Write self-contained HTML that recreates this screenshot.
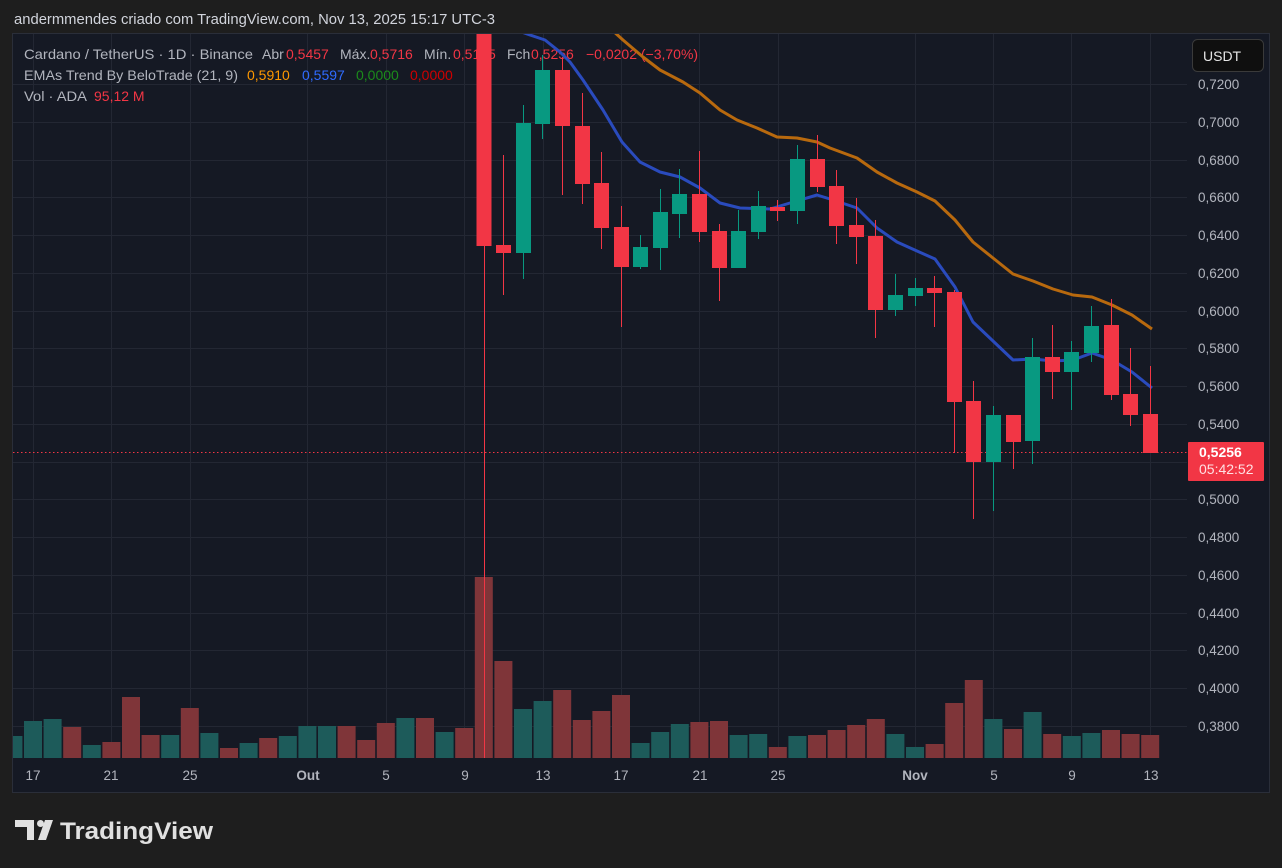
<!DOCTYPE html>
<html><head><meta charset="utf-8"><style>
html,body{margin:0;padding:0;background:#1e1e1e;width:1282px;height:868px;overflow:hidden}
svg{display:block}
text{font-family:"Liberation Sans",sans-serif}
</style></head><body>
<svg width="1282" height="868" viewBox="0 0 1282 868" xmlns="http://www.w3.org/2000/svg">
<rect width="1282" height="868" fill="#1e1e1e"/>
<text x="14" y="24" font-size="14.5" fill="#d1d4dc" textLength="481" lengthAdjust="spacingAndGlyphs">andermmendes criado com TradingView.com, Nov 13, 2025 15:17 UTC-3</text>
<rect x="12.5" y="33.5" width="1257" height="759" fill="#151924" stroke="#2a2e39"/>
<defs><clipPath id="c"><rect x="13" y="34" width="1174" height="724"/></clipPath></defs>
<g stroke="#232733" stroke-width="1">
<line x1="13" x2="1187" y1="84.5" y2="84.5"/><line x1="13" x2="1187" y1="122.5" y2="122.5"/><line x1="13" x2="1187" y1="160.5" y2="160.5"/><line x1="13" x2="1187" y1="197.5" y2="197.5"/><line x1="13" x2="1187" y1="235.5" y2="235.5"/><line x1="13" x2="1187" y1="273.5" y2="273.5"/><line x1="13" x2="1187" y1="311.5" y2="311.5"/><line x1="13" x2="1187" y1="348.5" y2="348.5"/><line x1="13" x2="1187" y1="386.5" y2="386.5"/><line x1="13" x2="1187" y1="424.5" y2="424.5"/><line x1="13" x2="1187" y1="462.5" y2="462.5"/><line x1="13" x2="1187" y1="499.5" y2="499.5"/><line x1="13" x2="1187" y1="537.5" y2="537.5"/><line x1="13" x2="1187" y1="575.5" y2="575.5"/><line x1="13" x2="1187" y1="613.5" y2="613.5"/><line x1="13" x2="1187" y1="650.5" y2="650.5"/><line x1="13" x2="1187" y1="688.5" y2="688.5"/><line x1="13" x2="1187" y1="726.5" y2="726.5"/>
<line y1="34" y2="758" x1="33.5" x2="33.5"/><line y1="34" y2="758" x1="111.5" x2="111.5"/><line y1="34" y2="758" x1="190.5" x2="190.5"/><line y1="34" y2="758" x1="307.5" x2="307.5"/><line y1="34" y2="758" x1="386.5" x2="386.5"/><line y1="34" y2="758" x1="464.5" x2="464.5"/><line y1="34" y2="758" x1="543.5" x2="543.5"/><line y1="34" y2="758" x1="621.5" x2="621.5"/><line y1="34" y2="758" x1="699.5" x2="699.5"/><line y1="34" y2="758" x1="778.5" x2="778.5"/><line y1="34" y2="758" x1="915.5" x2="915.5"/><line y1="34" y2="758" x1="993.5" x2="993.5"/><line y1="34" y2="758" x1="1071.5" x2="1071.5"/><line y1="34" y2="758" x1="1150.5" x2="1150.5"/>
</g>
<g font-size="14">
<text y="59" fill="#b2b5be"><tspan x="24" textLength="229" lengthAdjust="spacingAndGlyphs">Cardano / TetherUS · 1D · Binance</tspan><tspan x="262">Abr</tspan><tspan x="286" fill="#f23645">0,5457</tspan><tspan x="340">Máx.</tspan><tspan x="370" fill="#f23645">0,5716</tspan><tspan x="424">Mín.</tspan><tspan x="453" fill="#f23645">0,5185</tspan><tspan x="507">Fch</tspan><tspan x="531" fill="#f23645">0,5256</tspan><tspan x="586" fill="#f23645">−0,0202 (−3,70%)</tspan></text>
<text y="80" fill="#b2b5be"><tspan x="24" textLength="214" lengthAdjust="spacingAndGlyphs">EMAs Trend By BeloTrade (21, 9)</tspan><tspan x="247" fill="#ff9800">0,5910</tspan><tspan x="302" fill="#2f6bff">0,5597</tspan><tspan x="356" fill="#1b8a1b">0,0000</tspan><tspan x="410" fill="#d00000">0,0000</tspan></text>
<text y="101" fill="#b2b5be"><tspan x="24" textLength="63" lengthAdjust="spacingAndGlyphs">Vol · ADA</tspan><tspan x="94" fill="#f23645">95,12 M</tspan></text>
</g>
<g clip-path="url(#c)">
<g fill="#1d5b5a">
<rect x="4.4" y="736" width="18" height="22"/><rect x="24" y="721" width="18" height="37"/><rect x="43.6" y="719" width="18" height="39"/><rect x="82.8" y="745" width="18" height="13"/><rect x="161.2" y="735" width="18" height="23"/><rect x="200.4" y="733" width="18" height="25"/><rect x="239.6" y="743" width="18" height="15"/><rect x="278.8" y="736" width="18" height="22"/><rect x="298.4" y="726" width="18" height="32"/><rect x="318" y="726" width="18" height="32"/><rect x="396.4" y="718" width="18" height="40"/><rect x="435.6" y="732" width="18" height="26"/><rect x="514" y="709" width="18" height="49"/><rect x="533.6" y="701" width="18" height="57"/><rect x="631.6" y="743" width="18" height="15"/><rect x="651.2" y="732" width="18" height="26"/><rect x="670.8" y="724" width="18" height="34"/><rect x="729.6" y="735" width="18" height="23"/><rect x="749.2" y="734" width="18" height="24"/><rect x="788.4" y="736" width="18" height="22"/><rect x="886.4" y="734" width="18" height="24"/><rect x="906" y="747" width="18" height="11"/><rect x="984.4" y="719" width="18" height="39"/><rect x="1023.6" y="712" width="18" height="46"/><rect x="1062.8" y="736" width="18" height="22"/><rect x="1082.4" y="733" width="18" height="25"/>
</g>
<g fill="#7f3539">
<rect x="63.2" y="727" width="18" height="31"/><rect x="102.4" y="742" width="18" height="16"/><rect x="122" y="697" width="18" height="61"/><rect x="141.6" y="735" width="18" height="23"/><rect x="180.8" y="708" width="18" height="50"/><rect x="220" y="748" width="18" height="10"/><rect x="259.2" y="738" width="18" height="20"/><rect x="337.6" y="726" width="18" height="32"/><rect x="357.2" y="740" width="18" height="18"/><rect x="376.8" y="723" width="18" height="35"/><rect x="416" y="718" width="18" height="40"/><rect x="455.2" y="728" width="18" height="30"/><rect x="474.8" y="577" width="18" height="181"/><rect x="494.4" y="661" width="18" height="97"/><rect x="553.2" y="690" width="18" height="68"/><rect x="572.8" y="720" width="18" height="38"/><rect x="592.4" y="711" width="18" height="47"/><rect x="612" y="695" width="18" height="63"/><rect x="690.4" y="722" width="18" height="36"/><rect x="710" y="721" width="18" height="37"/><rect x="768.8" y="747" width="18" height="11"/><rect x="808" y="735" width="18" height="23"/><rect x="827.6" y="730" width="18" height="28"/><rect x="847.2" y="725" width="18" height="33"/><rect x="866.8" y="719" width="18" height="39"/><rect x="925.6" y="744" width="18" height="14"/><rect x="945.2" y="703" width="18" height="55"/><rect x="964.8" y="680" width="18" height="78"/><rect x="1004" y="729" width="18" height="29"/><rect x="1043.2" y="734" width="18" height="24"/><rect x="1102" y="730" width="18" height="28"/><rect x="1121.6" y="734" width="18" height="24"/><rect x="1141.2" y="735" width="18" height="23"/>
</g>
<line x1="13" x2="1187" y1="452.5" y2="452.5" stroke="#f23645" stroke-width="1" stroke-dasharray="1.5,2.5"/>
<polyline fill="none" stroke="#b8690e" stroke-width="3" stroke-linejoin="round" points="612,30 623,40 643,57 660,70 683,82 700,93 720,110 737,120 757,128 777,137 797,138 817,142 830,148 857,158 877,172 897,183 917,192 935,201 955,220 973,242 993,258 1013,274 1033,281 1053,289 1073,295 1092,297 1112,305 1132,315 1152,329"/>
<polyline fill="none" stroke="#2a4bbd" stroke-width="3" stroke-linejoin="round" points="516,30 530,35 545,40 560,52 570,62 583,80 603,110 622,142 640,162 660,172 680,177 700,188 720,203 740,208 770,209 790,203 817,195 830,199 857,208 877,228 897,242 917,251 935,259 955,287 973,322 993,341 1013,360 1033,359 1053,361 1073,360 1092,353 1112,360 1132,372 1152,388"/>
<g stroke="#f23645" stroke-width="1">
<line x1="484.5" x2="484.5" y1="30" y2="760"/><line x1="503.5" x2="503.5" y1="155" y2="295"/><line x1="562.5" x2="562.5" y1="57" y2="195"/><line x1="582.5" x2="582.5" y1="93" y2="204"/><line x1="601.5" x2="601.5" y1="152" y2="249"/><line x1="621.5" x2="621.5" y1="206" y2="327"/><line x1="699.5" x2="699.5" y1="151" y2="242"/><line x1="719.5" x2="719.5" y1="224" y2="301"/><line x1="777.5" x2="777.5" y1="200" y2="221"/><line x1="817.5" x2="817.5" y1="135" y2="192"/><line x1="836.5" x2="836.5" y1="170" y2="244"/><line x1="856.5" x2="856.5" y1="198" y2="264"/><line x1="875.5" x2="875.5" y1="220" y2="338"/><line x1="934.5" x2="934.5" y1="276" y2="327"/><line x1="954.5" x2="954.5" y1="290" y2="453"/><line x1="973.5" x2="973.5" y1="381" y2="519"/><line x1="1013.5" x2="1013.5" y1="442" y2="469"/><line x1="1052.5" x2="1052.5" y1="325" y2="399"/><line x1="1111.5" x2="1111.5" y1="299" y2="400"/><line x1="1130.5" x2="1130.5" y1="348" y2="426"/><line x1="1150.5" x2="1150.5" y1="366" y2="453"/>
</g>
<g stroke="#089981" stroke-width="1">
<line x1="523.5" x2="523.5" y1="105" y2="279"/><line x1="542.5" x2="542.5" y1="55" y2="139"/><line x1="640.5" x2="640.5" y1="235" y2="269"/><line x1="660.5" x2="660.5" y1="189" y2="270"/><line x1="679.5" x2="679.5" y1="169" y2="238"/><line x1="738.5" x2="738.5" y1="210" y2="268"/><line x1="758.5" x2="758.5" y1="191" y2="239"/><line x1="797.5" x2="797.5" y1="145" y2="224"/><line x1="895.5" x2="895.5" y1="274" y2="316"/><line x1="915.5" x2="915.5" y1="278" y2="306"/><line x1="993.5" x2="993.5" y1="406" y2="511"/><line x1="1032.5" x2="1032.5" y1="338" y2="464"/><line x1="1071.5" x2="1071.5" y1="341" y2="410"/><line x1="1091.5" x2="1091.5" y1="306" y2="362"/>
</g>
<g fill="#f23645">
<rect x="476.5" y="30" width="15" height="216"/><rect x="496" y="245" width="15" height="8"/><rect x="555" y="70" width="15" height="56"/><rect x="575" y="126" width="15" height="58"/><rect x="594" y="183" width="15" height="45"/><rect x="614" y="227" width="15" height="40"/><rect x="692" y="194" width="15" height="38"/><rect x="712" y="231" width="15" height="37"/><rect x="770" y="207" width="15" height="4"/><rect x="810" y="159" width="15" height="28"/><rect x="829" y="186" width="15" height="40"/><rect x="849" y="225" width="15" height="12"/><rect x="868" y="236" width="15" height="74"/><rect x="927" y="288" width="15" height="5"/><rect x="947" y="292" width="15" height="110"/><rect x="966" y="401" width="15" height="61"/><rect x="1006" y="415" width="15" height="27"/><rect x="1045" y="357" width="15" height="15"/><rect x="1104" y="325" width="15" height="70"/><rect x="1123" y="394" width="15" height="21"/><rect x="1143" y="414" width="15" height="39"/>
</g>
<g fill="#089981">
<rect x="516" y="123" width="15" height="130"/><rect x="535" y="70" width="15" height="54"/><rect x="633" y="247" width="15" height="20"/><rect x="653" y="212" width="15" height="36"/><rect x="672" y="194" width="15" height="20"/><rect x="731" y="231" width="15" height="37"/><rect x="751" y="206" width="15" height="26"/><rect x="790" y="159" width="15" height="52"/><rect x="888" y="295" width="15" height="15"/><rect x="908" y="288" width="15" height="8"/><rect x="986" y="415" width="15" height="47"/><rect x="1025" y="357" width="15" height="84"/><rect x="1064" y="352" width="15" height="20"/><rect x="1084" y="326" width="15" height="27"/>
</g>
</g>
<g font-size="13.5" fill="#b2b5be" text-anchor="middle">
<text x="33" y="780">17</text><text x="111" y="780">21</text><text x="190" y="780">25</text><text x="308" y="780" font-weight="bold">Out</text><text x="386" y="780">5</text><text x="465" y="780">9</text><text x="543" y="780">13</text><text x="621" y="780">17</text><text x="700" y="780">21</text><text x="778" y="780">25</text><text x="915" y="780" font-weight="bold">Nov</text><text x="994" y="780">5</text><text x="1072" y="780">9</text><text x="1151" y="780">13</text>
</g>
<g font-size="13.5" fill="#b2b5be">
<text x="1198" y="89">0,7200</text><text x="1198" y="127">0,7000</text><text x="1198" y="165">0,6800</text><text x="1198" y="202">0,6600</text><text x="1198" y="240">0,6400</text><text x="1198" y="278">0,6200</text><text x="1198" y="316">0,6000</text><text x="1198" y="353">0,5800</text><text x="1198" y="391">0,5600</text><text x="1198" y="429">0,5400</text><text x="1198" y="504">0,5000</text><text x="1198" y="542">0,4800</text><text x="1198" y="580">0,4600</text><text x="1198" y="618">0,4400</text><text x="1198" y="655">0,4200</text><text x="1198" y="693">0,4000</text><text x="1198" y="731">0,3800</text>
</g>
<rect x="1192.5" y="39.5" width="71" height="32" rx="5" fill="#0f0f0f" stroke="#3a3a3a"/>
<text x="1203" y="61" font-size="14" fill="#e6e6e6">USDT</text>
<rect x="1188" y="442" width="76" height="39" rx="1" fill="#f23645"/>
<text x="1199" y="457" font-size="14" fill="#ffffff" font-weight="bold">0,5256</text>
<text x="1199" y="474" font-size="14" fill="#ffe0e3">05:42:52</text>
<g fill="#e0e0e0">
<path d="M15 820 H34 V840 H27 V827 H15 Z"/>
<circle cx="40.5" cy="823.5" r="3.5"/>
<path d="M45 820 H53 L46 840 H38 Z"/>
<text x="60" y="839" font-size="24" font-weight="bold" textLength="153" lengthAdjust="spacingAndGlyphs">TradingView</text>
</g>
</svg>
</body></html>
